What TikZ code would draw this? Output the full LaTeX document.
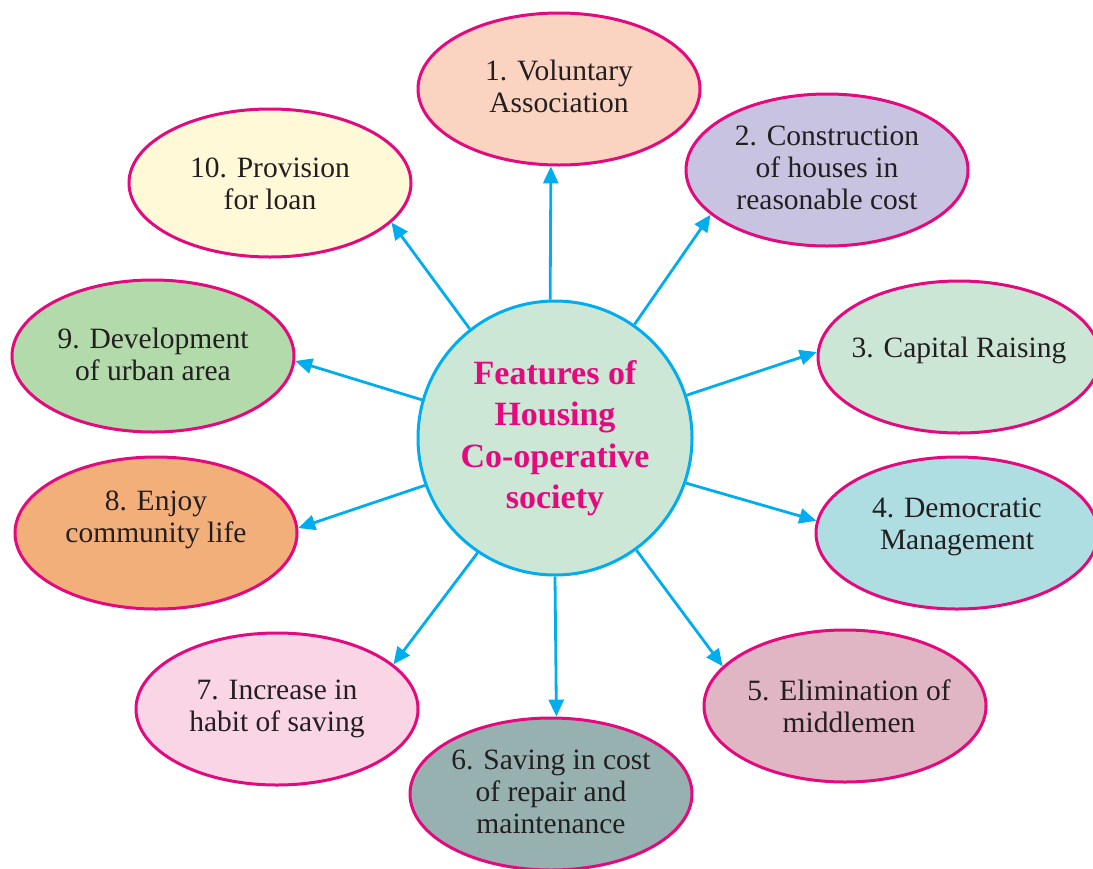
\documentclass[tikz,border=0pt]{standalone}
\usepackage{fontspec}
\setmainfont{Liberation Serif}
\usetikzlibrary{arrows.meta,shapes.geometric}
\definecolor{mag}{HTML}{E5097F}
\definecolor{cyn}{HTML}{00AEEF}
\definecolor{txtc}{HTML}{231F20}
\definecolor{cA}{HTML}{FAD3C1}
\definecolor{cB}{HTML}{C7C3E0}
\definecolor{cC}{HTML}{CCE6D5}
\definecolor{cD}{HTML}{AEDDE2}
\definecolor{cE}{HTML}{E0B5C4}
\definecolor{cF}{HTML}{96B1AF}
\definecolor{cG}{HTML}{F9D5E5}
\definecolor{cH}{HTML}{F2AF7A}
\definecolor{cI}{HTML}{B3DAAB}
\definecolor{cJ}{HTML}{FFF9D8}
\definecolor{cCirc}{HTML}{CDE7D6}
\begin{document}
\begin{tikzpicture}[x=1pt,y=-1pt,
  ell/.style={ellipse, draw=mag, line width=3pt, minimum width=282pt, minimum height=152pt, inner sep=0pt},
  txt/.style={align=center, font=\rmfamily\fontsize{29.5}{32}\selectfont, text=txtc, inner sep=0pt},
  hub/.style={circle, draw=cyn, line width=3pt, fill=cCirc, minimum size=274pt, inner sep=0pt,
    align=center, text=mag, font=\rmfamily\fontsize{34}{41.5}\selectfont\bfseries},
  arr/.style={draw=cyn, line width=2.8pt, -{Triangle[length=17pt,width=15pt]}}]
\useasboundingbox (0,0) rectangle (1093,868);
\fill[white] (0,0) rectangle (1093,868);

\node[hub] (c) at (555,438) {Features of\\Housing\\Co-operative\\society};

\node[ell, fill=cA] (e1) at (559,89) {};
\node[ell, fill=cB] (e2) at (827,170) {};
\node[ell, fill=cC] (e3) at (959,357) {};
\node[ell, fill=cD] (e4) at (957,533) {};
\node[ell, fill=cE] (e5) at (845,706) {};
\node[ell, fill=cF] (e6) at (551,794) {};
\node[ell, fill=cG] (e7) at (277,709) {};
\node[ell, fill=cH] (e8) at (156,533) {};
\node[ell, fill=cI] (e9) at (153,356) {};
\node[ell, fill=cJ, minimum height=148pt] (e10) at (270,183) {};

\node[txt, yshift=3pt] (t1) at (e1) {1. Voluntary\\Association};
\node[txt, yshift=2pt] (t2) at (e2) {2. Construction\\of houses in\\reasonable cost};
\node[txt, yshift=7pt] (t3) at (e3) {3. Capital Raising};
\node[txt, yshift=6pt] (t4) at (e4) {4. Democratic\\Management};
\node[txt, xshift=4pt] (t5) at (e5) {5. Elimination of\\middlemen};
\node[txt, yshift=2pt] (t6) at (e6) {6. Saving in cost\\of repair and\\maintenance};
\node[txt] (t7) at (e7) {7. Increase in\\habit of saving};
\node[txt, yshift=13pt] (t8) at (e8) {8. Enjoy\\community life};
\node[txt, yshift=2pt] (t9) at (e9) {9. Development\\of urban area};
\node[txt, yshift=-1pt] (t10) at (e10) {10. Provision\\for loan};

\draw[arr] (c.92) -- (e1.264);
\draw[arr] (c.55) -- (e2.201);
\draw[arr] (c.18) -- (e3.178);
\draw[arr] (c.341) -- (e4.175);
\draw[arr] (c.306) -- (e5.162);
\draw[arr] (c.270) -- (e6.86);
\draw[arr] (c.236) -- (e7.21);
\draw[arr] (c.200) -- (e8.2);
\draw[arr] (c.164) -- (e9.358);
\draw[arr] (c.128) -- (e10.342);
\end{tikzpicture}
\end{document}
